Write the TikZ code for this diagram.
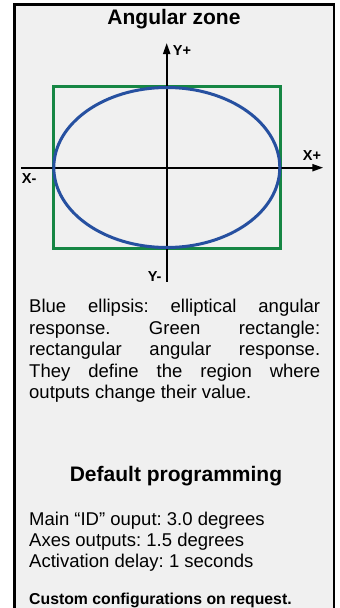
\documentclass[tikz,border=0pt]{standalone}
\usepackage{fontspec}
\setmainfont{Liberation Sans}
\usetikzlibrary{arrows.meta}
\definecolor{panelgray}{RGB}{240,240,240}
\definecolor{zonegreen}{RGB}{22,134,68}
\definecolor{zoneblue}{RGB}{38,80,160}
\frenchspacing
\tikzset{
  frame/.style={draw=black, line width=2.5pt, fill=panelgray},
  axis/.style={draw=black, line width=2pt},
  axisarrow/.style={axis, -{Triangle[length=11pt,width=7pt]}},
  axislabel/.style={inner sep=0pt, font=\fontsize{14.5}{16}\selectfont\bfseries},
  heading/.style={inner sep=0pt, anchor=base, font=\fontsize{21}{24}\selectfont\bfseries},
  body/.style={inner sep=0pt, anchor=base west, font=\fontsize{18.5}{21.5}\selectfont\frenchspacing},
  greenzone/.style={draw=zonegreen, line width=3pt},
  bluezone/.style={draw=zoneblue, line width=3pt},
}
\begin{document}
\begin{tikzpicture}[x=1pt,y=-1pt]
\useasboundingbox (0,0) rectangle (340,608);
\clip (0,0) rectangle (340,608);
\fill[white] (0,0) rectangle (340,608);
\path[frame] (14.25,4.25) rectangle (333.8,640);

\node[heading] (title) at (174,24) {Angular zone};

% zones
\draw[greenzone] (53.3,86.7) rectangle (280.3,248.5);

% axes
\coordinate (xl) at (21,167.7);
\coordinate (xr) at (323.3,167.7);
\coordinate (yt) at (166.7,43);
\coordinate (yb) at (166.7,281.7);
\draw[axisarrow] (xl) -- (xr);
\draw[axisarrow] (yb) -- (yt);

\draw[bluezone] (166.8,167.5) ellipse [x radius=113, y radius=80];

\node[axislabel, anchor=base west] (yplus) at (172.7,55.8) {Y+};
\node[axislabel, anchor=base west] (xplus) at (302.7,160.5) {X+};
\node[axislabel, anchor=base west] (xminus) at (21.7,183.8) {X-};
\node[axislabel, anchor=base east] (yminus) at (161.7,281.5) {Y-};

\node[body, text width=291pt, align=justify] (desc) at (29,312.7)
  {Blue ellipsis: elliptical angular\linebreak
   response. Green rectangle:\linebreak
   rectangular angular response.\linebreak
   They define the region where\linebreak
   outputs change their value.};

\node[heading] (defprog) at (176,481) {Default programming};

\node[body] (main) at (29,525) {Main “ID” ouput: 3.0 degrees};
\node[body] (axes) at (29,546) {Axes outputs: 1.5 degrees};
\node[body] (delay) at (29,567) {Activation delay: 1 seconds};

\node[inner sep=0pt, anchor=base west, font=\fontsize{15.8}{18}\selectfont\bfseries] (custom) at (29,604.5) {Custom configurations on request.};
\end{tikzpicture}
\end{document}
